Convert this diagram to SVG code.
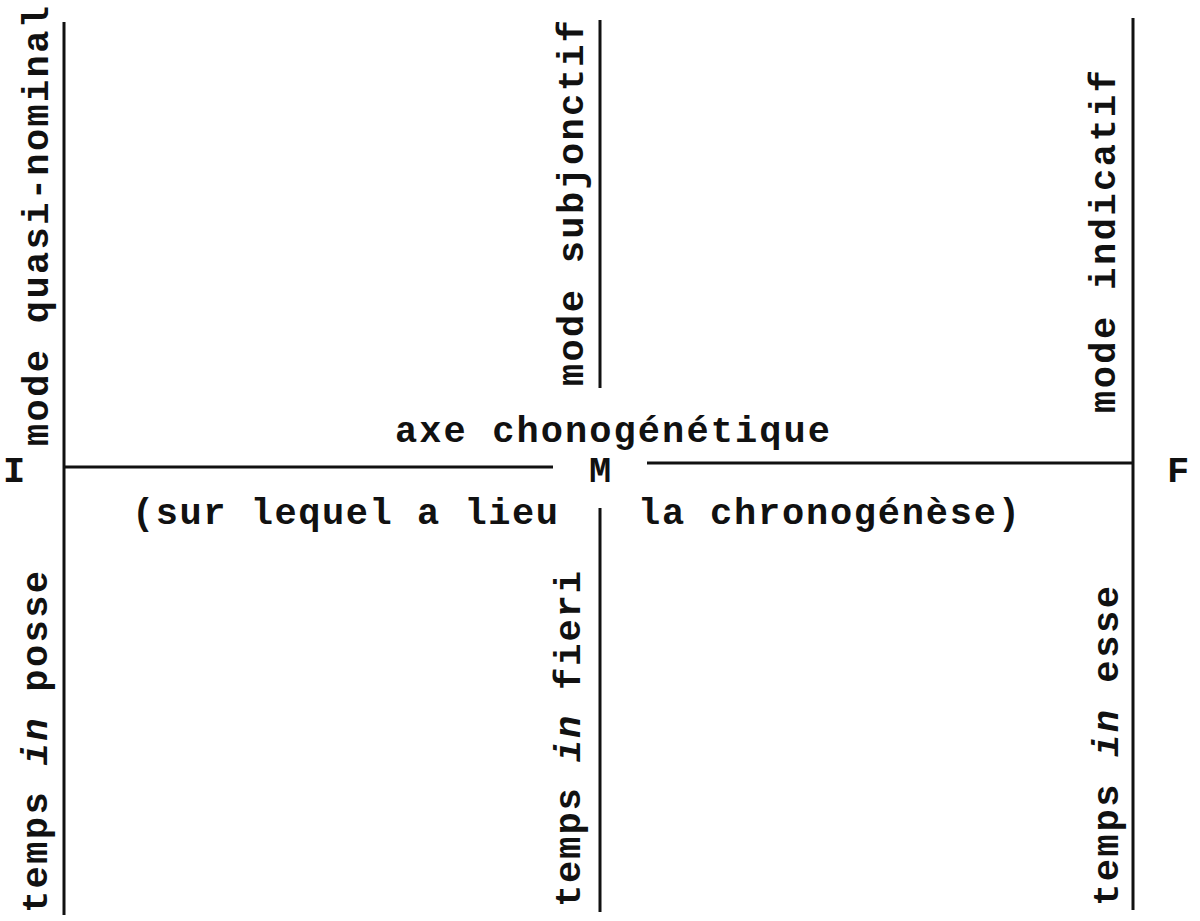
<svg xmlns="http://www.w3.org/2000/svg" width="1200" height="921" viewBox="0 0 1200 921">
<style>
text{font-family:"Liberation Mono","Courier New",monospace;font-weight:bold;font-size:37px;fill:#111}
.ln{stroke:#111;stroke-width:3;fill:none}
.it{font-style:italic}
</style>
<rect width="1200" height="921" fill="#fff"/>
<g id="connectors">
<line class="ln" x1="64" y1="22" x2="64" y2="915"/>
<line class="ln" x1="600" y1="20" x2="600" y2="388"/>
<line class="ln" x1="600" y1="508" x2="600" y2="912"/>
<line class="ln" x1="1133" y1="18" x2="1133" y2="910"/>
<line class="ln" x1="64" y1="467" x2="553" y2="467"/>
<line class="ln" x1="647" y1="463" x2="1133" y2="463"/>
</g>
<g id="node-I"><text x="14" y="482" text-anchor="middle">I</text></g>
<g id="node-M"><text x="600" y="482" text-anchor="middle">M</text></g>
<g id="node-F"><text x="1178" y="482" text-anchor="middle">F</text></g>
<g id="axis-label">
<text x="395" y="442" textLength="435" lengthAdjust="spacing">axe chonogénétique</text>
<text x="132" y="524" textLength="426" lengthAdjust="spacing">(sur lequel a lieu</text>
<text x="638" y="524" textLength="382" lengthAdjust="spacing">la chronogénèse)</text>
</g>
<g id="mode-quasi-nominal"><text x="48" y="446" transform="rotate(-90 48 446)" textLength="440" lengthAdjust="spacing">mode quasi-nominal</text></g>
<g id="temps-in-posse"><text x="47" y="913" transform="rotate(-90 47 913)" textLength="342" lengthAdjust="spacing">temps <tspan class="it">in</tspan> posse</text></g>
<g id="mode-subjonctif"><text x="583" y="386" transform="rotate(-90 583 386)" textLength="366" lengthAdjust="spacing">mode subjonctif</text></g>
<g id="temps-in-fieri"><text x="580" y="907" transform="rotate(-90 580 907)" textLength="336" lengthAdjust="spacing">temps <tspan class="it">in</tspan> fieri</text></g>
<g id="mode-indicatif"><text x="1115" y="413" transform="rotate(-90 1115 413)" textLength="343" lengthAdjust="spacing">mode indicatif</text></g>
<g id="temps-in-esse"><text x="1118" y="906" transform="rotate(-90 1118 906)" textLength="320" lengthAdjust="spacing">temps <tspan class="it">in</tspan> esse</text></g>
</svg>
